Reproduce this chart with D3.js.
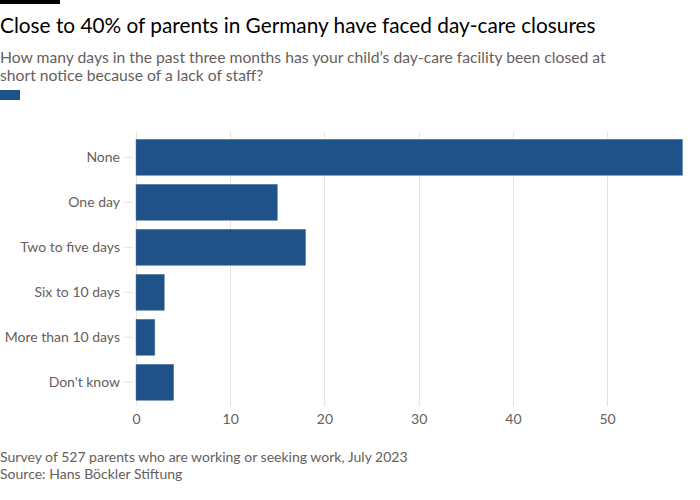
<!DOCTYPE html>
<html>
<head>
<meta charset="utf-8">
<script src="https://cdn.jsdelivr.net/npm/d3@7"></script>
<style>
  html, body { margin: 0; padding: 0; background: #ffffff; }
  svg { display: block; }
</style>
</head>
<body>
<svg id="chart" width="700" height="500"></svg>
<script>
const categories = ["None", "One day", "Two to five days", "Six to 10 days", "More than 10 days", "Don't know"];
const values = [58, 15, 18, 3, 2, 4];
const tickValues = [0, 10, 20, 30, 40, 50];

const titleText = "Close to 40% of parents in Germany have faced day-care closures";
const subtitleLines = ["How many days in the past three months has your child\u2019s day-care facility been closed at", "short notice because of a lack of staff?"];
const footerLines = ["Survey of 527 parents who are working or seeking work, July 2023", "Source: Hans B\u00f6ckler Stiftung"];

const svg = d3.select("#chart");
const headFont = "Lato, 'Open Sans', sans-serif";
const axisFont = "Lato, 'Open Sans', sans-serif";
const grey = "#66605c";
const barColor = "#1f5288";

function fitText(sel, target) {
  const node = sel.node();
  const fs = parseFloat(sel.attr("font-size"));
  const w = node.getComputedTextLength();
  if (w > 0) sel.attr("font-size", (fs * target / w).toFixed(2));
  return sel.attr("font-size");
}

// top black rule
svg.append("rect").attr("x", 0).attr("y", 0).attr("width", 60).attr("height", 4).attr("fill", "#000");

const title = svg.append("text").attr("x", 0).attr("y", 32.5)
  .attr("font-family", headFont).attr("font-size", 20).attr("fill", "#000").text(titleText);
fitText(title, 596);

let subSize = null;
subtitleLines.forEach((t, i) => {
  const s = svg.append("text").attr("x", 0).attr("y", 62.6 + i * 18)
    .attr("font-family", headFont).attr("font-size", 15).attr("fill", grey).text(t);
  if (i === 0) subSize = fitText(s, 606);
  else s.attr("font-size", subSize);
});

// legend swatch
svg.append("rect").attr("x", 0).attr("y", 90).attr("width", 20).attr("height", 10).attr("fill", barColor);

// scales
const x = d3.scaleLinear().domain([0, 58]).range([136, 682.5]);
const y = d3.scaleBand().domain(categories).range([134.8, 404.8]).paddingInner(0.2).paddingOuter(0.1);

// gridlines
const g = svg.append("g");
g.selectAll("line.grid").data(tickValues).enter().append("line")
  .attr("class", "grid")
  .attr("x1", d => Math.round(x(d)) + 0.5).attr("x2", d => Math.round(x(d)) + 0.5)
  .attr("y1", 132).attr("y2", 406)
  .attr("stroke", "#e9e1da").attr("stroke-width", 1);

// bars
g.selectAll("rect.bar").data(values).enter().append("rect")
  .attr("class", "bar")
  .attr("x", x(0))
  .attr("y", (d, i) => y(categories[i]))
  .attr("width", d => x(d) - x(0))
  .attr("height", y.bandwidth())
  .attr("fill", barColor)
  .attr("stroke", "#5a7fa8").attr("stroke-width", 0.5);

// y axis
const yAxis = d3.axisLeft(y).tickSize(9).tickPadding(4);
const ya = svg.append("g").attr("transform", "translate(133,0)").call(yAxis);
ya.select(".domain").remove();
ya.selectAll(".tick line").attr("stroke", "#e9e1da");
ya.selectAll(".tick text").attr("font-family", axisFont).attr("font-size", 14).attr("fill", grey);

// x axis
const xAxis = d3.axisBottom(x).tickValues(tickValues).tickSize(0).tickPadding(9);
const xa = svg.append("g").attr("transform", "translate(0,405)").call(xAxis);
xa.select(".domain").remove();
xa.selectAll(".tick text").attr("font-family", axisFont).attr("font-size", 14).attr("fill", grey);

// footer
let footSize = null;
footerLines.forEach((t, i) => {
  const f = svg.append("text").attr("x", 0).attr("y", 462.3 + i * 16.4)
    .attr("font-family", headFont).attr("font-size", 14).attr("fill", grey).text(t);
  if (i === 0) footSize = fitText(f, 408);
  else f.attr("font-size", footSize);
});
</script>
</body>
</html>
